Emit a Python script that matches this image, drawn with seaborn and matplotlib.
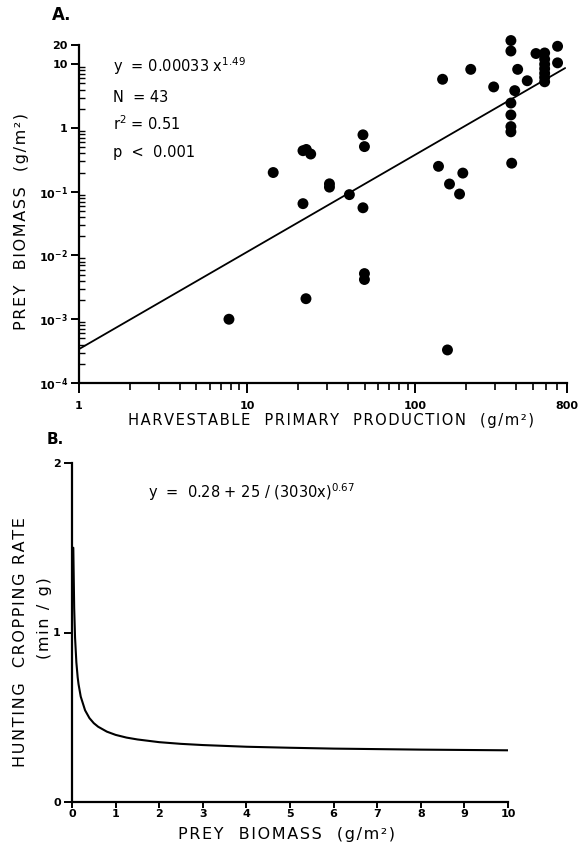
import numpy as np
import pandas as pd
import matplotlib
matplotlib.use("Agg")
import matplotlib.pyplot as plt
import seaborn as sns

# ==== Panel A: prey biomass vs harvestable primary production (log-log) ====
production = [7.8, 14.3, 21.5, 22.5, 23.9, 21.5, 22.4, 30.9, 30.9, 40.6,
              48.9, 49.9, 48.9, 49.9, 49.9, 137.6, 145.5, 155.6, 160, 183.6,
              192, 214, 293, 371, 371, 407, 391, 371, 371, 371,
              371, 375, 464, 523, 589, 589, 589, 589, 589, 589,
              589, 703, 703]
prey_biomass = [0.001, 0.20, 0.44, 0.46, 0.39, 0.065, 0.0021, 0.133, 0.118, 0.090,
                0.78, 0.51, 0.056, 0.0052, 0.0042, 0.25, 5.8, 0.00033, 0.132, 0.092,
                0.196, 8.3, 4.4, 23.5, 16.1, 8.3, 3.85, 2.46, 1.6, 1.05,
                0.87, 0.28, 5.5, 14.7, 15.0, 12.0, 10.0, 8.5, 7.2, 6.2,
                5.3, 19.1, 10.5]
fit_x = [1, 780]
fit_y = [0.00034, 8.7]

# ==== Panel B: hunting cropping rate vs prey biomass ====
biomass_b = [0.03, 0.05, 0.07, 0.1, 0.13, 0.15, 0.2, 0.3, 0.4, 0.5, 0.6, 0.8,
             1.0, 1.25, 1.5, 2, 2.5, 3, 4, 5, 6, 7, 8, 9, 10]
cropping_rate = [1.50, 1.145, 0.97, 0.824, 0.736, 0.695, 0.622, 0.541, 0.495, 0.465,
                 0.444, 0.415, 0.396, 0.380, 0.369, 0.353, 0.343, 0.336, 0.326,
                 0.320, 0.315, 0.312, 0.309, 0.307, 0.305]

sns.set_style("ticks")
plt.rcParams['font.family'] = ['DejaVu Sans']
plt.rcParams['mathtext.fontset'] = 'dejavusans'
plt.rcParams['text.color'] = 'black'
plt.rcParams['xtick.color'] = 'black'
plt.rcParams['ytick.color'] = 'black'

W, H = 582, 851
fig = plt.figure(figsize=(W / 100, H / 100), dpi=100)
axA = fig.add_axes([79 / W, 1 - 383 / H, 488 / W, 338 / H])
axB = fig.add_axes([72 / W, 1 - 802 / H, 436 / W, 339 / H])


def px(x, y):
    return x / W, 1 - y / H


def spaced(s):
    # wide lettering like the original drafting font
    return "\u200a".join(s)


# ---- panel A ----
axA.set_xscale("log")
axA.set_yscale("log")
dfA = pd.DataFrame({"production": production, "biomass": prey_biomass})
sns.scatterplot(data=dfA, x="production", y="biomass", ax=axA, s=62,
                color="black", edgecolor="none", clip_on=False, zorder=3)
sns.lineplot(x=fit_x, y=fit_y, ax=axA, color="black", lw=1.3)
axA.set_xlim(1, 800)
axA.set_ylim(1e-4, 20)
axA.set_xticks([1, 10, 100, 800])
axA.set_xticklabels(["1", "10", "100", "800"])
axA.set_xticks([m * d for d in (1, 10, 100) for m in range(2, 10) if m * d < 800],
               minor=True)
axA.set_yticks([1e-4, 1e-3, 1e-2, 1e-1, 1, 10, 20])
axA.set_yticklabels([r"$\mathregular{10^{-4}}$", r"$\mathregular{10^{-3}}$",
                     r"$\mathregular{10^{-2}}$", r"$\mathregular{10^{-1}}$",
                     "1", "10", "20"])
axA.set_yticks([m * d for d in (1e-4, 1e-3, 1e-2, 1e-1, 1) for m in range(2, 10)],
               minor=True)
axA.set_xlabel("")
axA.set_ylabel("")
axA.tick_params(axis="x", which="major", direction="out", length=7, width=1.4,
                labelsize=8, pad=6)
axA.tick_params(axis="x", which="minor", direction="out", length=5, width=1.2)
axA.tick_params(axis="y", which="major", direction="out", length=6, width=1.4,
                labelsize=8, pad=2)
axA.tick_params(axis="y", which="minor", direction="in", length=4, width=1.0)
for lab in axA.get_xticklabels() + axA.get_yticklabels():
    lab.set_fontweight("bold")

# ---- panel B ----
sns.lineplot(x=biomass_b, y=cropping_rate, ax=axB, color="black", lw=1.5)
axB.set_xlim(0, 10)
axB.set_ylim(0, 2)
axB.set_xticks(range(0, 11))
axB.set_yticks([0, 1, 2])
axB.set_xlabel("")
axB.set_ylabel("")
axB.tick_params(axis="x", which="major", direction="out", length=4, width=1.4,
                labelsize=8, pad=1)
axB.tick_params(axis="y", which="major", direction="out", length=6, width=1.4,
                labelsize=8, pad=2)
for lab in axB.get_xticklabels() + axB.get_yticklabels():
    lab.set_fontweight("bold")

for ax in (axA, axB):
    sns.despine(ax=ax)
    for s in ("left", "bottom"):
        ax.spines[s].set_linewidth(1.6)
        ax.spines[s].set_color("black")

# ---- texts ----
fig.text(*px(52, 15), "A.", fontsize=12, fontweight="bold", va="center")
fig.text(*px(47, 440), "B.", fontsize=11, fontweight="bold", va="center")

eq_kw = dict(fontsize=10.5, va="center")
fig.text(*px(113, 66), r"y  = 0.00033 x$^{\mathregular{1.49}}$", **eq_kw)
fig.text(*px(113, 97), "N  = 43", **eq_kw)
fig.text(*px(113, 124), r"r$^{\mathregular{2}}$ = 0.51", **eq_kw)
fig.text(*px(113, 152), "p  <  0.001", **eq_kw)
fig.text(*px(148, 492), r"y  =  0.28 + 25 / (3030x)$^{\mathregular{0.67}}$", **eq_kw)

lab_kw = dict(fontsize=11.5, ha="center", va="center")
fig.text(*px(22, 222), spaced("PREY  BIOMASS  (g/m²)"), rotation=90, **lab_kw)
fig.text(*px(331, 421), spaced("HARVESTABLE  PRIMARY  PRODUCTION  (g/m²)"),
         fontsize=10.6, ha="center", va="center")
fig.text(*px(21, 642), spaced("HUNTING  CROPPING RATE"), rotation=90, **lab_kw)
fig.text(*px(44, 618), spaced("(min / g)"), rotation=90, **lab_kw)
fig.text(*px(287, 834), spaced("PREY  BIOMASS  (g/m²)"), **lab_kw)

fig.savefig("out.png", dpi=100)
